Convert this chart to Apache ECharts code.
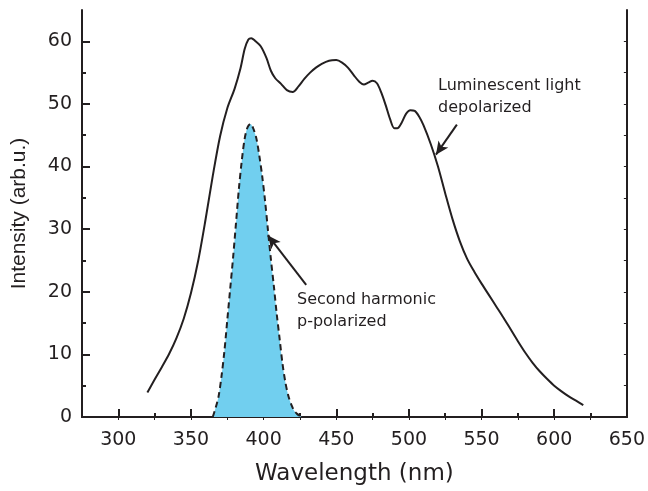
<!DOCTYPE html>
<html>
<head>
<meta charset="utf-8">
<script src="https://cdn.jsdelivr.net/npm/echarts@6/dist/echarts.min.js"></script>
<style>
html,body{margin:0;padding:0;background:#fff;}
#main{width:648px;height:491px;}
</style>
</head>
<body>
<div id="main"></div>
<script>
// Luminescent light (depolarized): wavelength (nm) and intensity (arb.u.)
const lumX = [320,325,330,335,340,345,350,355,360,365,370,375,380,384,387,389.5,391.5,394,398,402,405,408,412,416,420,424,428,432,436,440,445,450,454,458,462,466,469,472,475,478,481,484,487,490,492,495,498,501,504,507,510,515,520,525,530,535,540,545,550,555,560,565,570,575,580,585,590,595,600,605,610,615,620];
const lumY = [3.9,6.0,8.0,10.1,12.6,15.7,19.8,25.0,31.5,38.5,44.8,49.3,52.4,55.6,58.8,60.3,60.5,60.1,59.2,57.3,55.3,54.1,53.2,52.2,51.9,52.8,54.0,55.0,55.8,56.4,56.9,57.0,56.6,55.8,54.6,53.5,53.1,53.4,53.7,53.3,51.8,49.8,47.6,46.1,46.1,47.0,48.4,49.0,48.9,48.0,46.6,43.6,40.0,35.7,31.6,28.1,25.3,23.2,21.3,19.5,17.7,15.9,14.0,12.1,10.3,8.7,7.3,6.1,5.0,4.1,3.3,2.6,1.9];
// Second harmonic (p-polarized)
const shgX = [365,367,369,371,373,375,377,379,381,383,385,387,389,391,393,395,397,399,401,403,405,407,409,411,413,415,417,419,421,423,426];
const shgY = [0,1.5,3.3,6.5,10.5,15.5,20.5,25.5,31,36.5,41,44.5,46.3,46.8,46,44.5,41.8,38.5,34.5,29.8,25.2,21,16.5,12.5,8.5,5.5,3.4,2,1,0.5,0];
// Tick labels
const xMajor = [300,350,400,450,500,550,600,650];
const xMinor = [325,375,425,475,525,575,625];
const xTop = [300,325,350,375,400,425,450,475,500,525,550,575,600,625];
const yMajor = [0,10,20,30,40,50,60];
const yMinor = [5,15,25,35,45,55];
const yRight = [5,10,15,20,25,30,35,40,45,50,55,60];
// Annotation arrows (data coordinates: tail -> head)
const lumArrow = [[533,46.7],[518.6,41.9]];
const shgArrow = [[429.3,21.1],[403,29.0]];
const lumText = ['Luminescent light','depolarized'];
const shgText = ['Second harmonic','p-polarized'];

const INK = '#231f20';
const FONT_H = 'DejaVu Sans';
const FONT_V = 'Liberation Sans';
const pair = (xs, ys) => xs.map((x, i) => [x, ys[i]]);

const chart = echarts.init(document.getElementById('main'), null, {renderer: 'canvas'});

const hiddenLabel = {show: false};
const baseX = {type: 'value', min: 275, max: 650, splitLine: {show: false}, gridIndex: 0};
const baseY = {type: 'value', min: 0, max: 65, splitLine: {show: false}, gridIndex: 0};

chart.setOption({
  animation: false,
  backgroundColor: '#fff',
  grid: {left: 82, right: 19, top: 10, bottom: 74},
  xAxis: [
    Object.assign({}, baseX, {
      position: 'bottom',
      axisLine: {show: true, lineStyle: {color: INK, width: 2}},
      axisTick: {show: true, inside: true, length: 8, customValues: xMajor, lineStyle: {color: INK, width: 2}},
      axisLabel: {show: true, customValues: xMajor, margin: 14, fontSize: 19, fontFamily: FONT_H, color: INK},
      name: 'Wavelength (nm)', nameLocation: 'middle', nameGap: 46,
      nameTextStyle: {fontSize: 23, fontFamily: FONT_H, color: INK}
    }),
    Object.assign({}, baseX, {
      position: 'bottom',
      axisLine: {show: false},
      axisTick: {show: true, inside: true, length: 4, customValues: xMinor, lineStyle: {color: INK, width: 2}},
      axisLabel: hiddenLabel
    }),
    Object.assign({}, baseX, {
      position: 'top',
      axisLine: {show: true, lineStyle: {color: INK, width: 2}},
      axisTick: {show: true, inside: true, length: 3, customValues: xTop, lineStyle: {color: INK, width: 1}},
      axisLabel: hiddenLabel
    })
  ],
  yAxis: [
    Object.assign({}, baseY, {
      position: 'left',
      axisLine: {show: true, lineStyle: {color: INK, width: 2}},
      axisTick: {show: true, inside: true, length: 8, customValues: yMajor, lineStyle: {color: INK, width: 2}},
      axisLabel: {show: true, customValues: yMajor, margin: 10, fontSize: 19, fontFamily: FONT_H, color: INK},
      name: 'Intensity (arb.u.)', nameLocation: 'middle', nameGap: 52, nameRotate: 90,
      nameTextStyle: {fontSize: 21, fontFamily: FONT_V, color: INK}
    }),
    Object.assign({}, baseY, {
      position: 'left',
      axisLine: {show: false},
      axisTick: {show: true, inside: true, length: 4, customValues: yMinor, lineStyle: {color: INK, width: 2}},
      axisLabel: hiddenLabel
    }),
    Object.assign({}, baseY, {
      position: 'right',
      axisLine: {show: true, lineStyle: {color: INK, width: 2}},
      axisTick: {show: true, inside: true, length: 3, customValues: yRight, lineStyle: {color: INK, width: 1}},
      axisLabel: hiddenLabel
    })
  ],
  series: [
    {
      name: 'Second harmonic',
      type: 'line',
      xAxisIndex: 0, yAxisIndex: 0,
      data: pair(shgX, shgY),
      smooth: 0.3,
      showSymbol: false,
      lineStyle: {color: INK, width: 2, type: [6, 4]},
      areaStyle: {color: '#71cfef', opacity: 1},
      z: 2,
      markLine: {
        silent: true,
        symbol: ['none', 'arrow'],
        symbolSize: [9, 13],
        label: {show: false},
        lineStyle: {color: INK, width: 2, type: 'solid'},
        data: [
          [{coord: shgArrow[0]}, {coord: shgArrow[1]}],
          [{coord: lumArrow[0]}, {coord: lumArrow[1]}]
        ]
      }
    },
    {
      name: 'Luminescent light',
      type: 'line',
      xAxisIndex: 0, yAxisIndex: 0,
      data: pair(lumX, lumY),
      smooth: 0.3,
      showSymbol: false,
      lineStyle: {color: INK, width: 2},
      z: 3
    }
  ],
  graphic: [
    {type: 'text', left: 438, top: 75, style: {text: lumText.join('\n'), fontSize: 16, fontFamily: FONT_H, fill: INK, lineHeight: 22}},
    {type: 'text', left: 297, top: 289, style: {text: shgText.join('\n'), fontSize: 16, fontFamily: FONT_H, fill: INK, lineHeight: 22}}
  ]
});
</script>
</body>
</html>
